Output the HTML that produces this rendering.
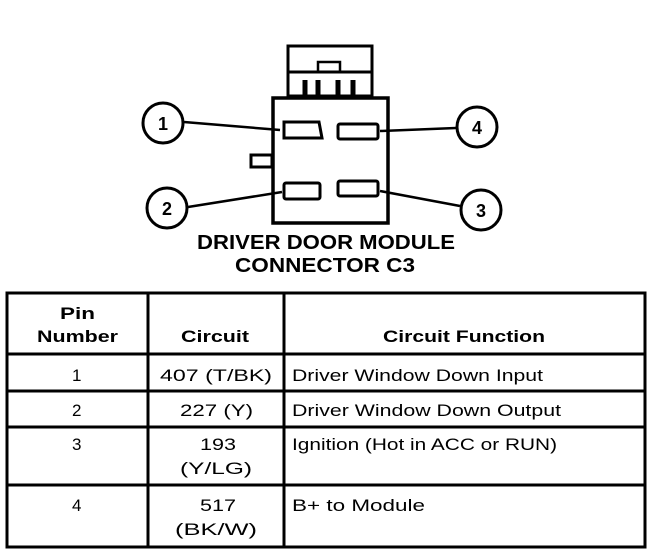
<!DOCTYPE html>
<html><head><meta charset="utf-8"><style>
html,body{margin:0;padding:0;background:#fff;}
svg{display:block;}
text{font-family:"Liberation Sans",Arial,sans-serif;fill:#000;}
</style></head><body>
<svg width="672" height="560" viewBox="0 0 672 560" xmlns="http://www.w3.org/2000/svg">
<g fill="none" stroke="#000" stroke-width="3">
  <rect x="288" y="46" width="84" height="50"/>
  <line x1="288" y1="72" x2="372" y2="72"/>
  <rect x="318" y="62" width="22" height="10" stroke-width="2.5"/>
  <line x1="305" y1="80" x2="305" y2="96" stroke-width="5"/>
  <line x1="318" y1="80" x2="318" y2="96" stroke-width="5"/>
  <line x1="338" y1="80" x2="338" y2="96" stroke-width="5"/>
  <line x1="353" y1="80" x2="353" y2="96" stroke-width="5"/>
  <rect x="273" y="98" width="115" height="125" stroke-width="3.5"/>
  <rect x="251" y="155" width="21" height="12"/>
  <path d="M284 122 H319 L322 138 H284 Z"/>
  <rect x="338" y="124" width="40" height="15" rx="2"/>
  <rect x="284" y="183" width="36" height="16" rx="2"/>
  <rect x="338" y="181" width="40" height="15" rx="2"/>
  <line x1="184" y1="122" x2="280" y2="130" stroke-width="2.5"/>
  <line x1="188" y1="207" x2="282" y2="192" stroke-width="2.5"/>
  <line x1="380" y1="131" x2="456" y2="128" stroke-width="2.5"/>
  <line x1="380" y1="191" x2="460" y2="206" stroke-width="2.5"/>
  <circle cx="163" cy="123" r="20"/>
  <circle cx="477" cy="127" r="20"/>
  <circle cx="167" cy="208" r="20"/>
  <circle cx="481" cy="210" r="20"/>
</g>
<g font-weight="bold" font-size="18" text-anchor="middle">
  <text x="163" y="130">1</text>
  <text x="477" y="134">4</text>
  <text x="167" y="215">2</text>
  <text x="481" y="217">3</text>
</g>
<g font-weight="bold" font-size="20" lengthAdjust="spacingAndGlyphs">
  <text x="197" y="249" textLength="258" lengthAdjust="spacingAndGlyphs">DRIVER DOOR MODULE</text>
  <text x="235" y="272" textLength="180" lengthAdjust="spacingAndGlyphs">CONNECTOR C3</text>
</g>
<g fill="none" stroke="#000" stroke-width="3">
  <rect x="7" y="293" width="638" height="254"/>
  <line x1="148" y1="293" x2="148" y2="547"/>
  <line x1="284" y1="293" x2="284" y2="547"/>
  <line x1="7" y1="354" x2="645" y2="354"/>
  <line x1="7" y1="391" x2="645" y2="391"/>
  <line x1="7" y1="427" x2="645" y2="427"/>
  <line x1="7" y1="485" x2="645" y2="485"/>
</g>
<g font-size="17">
  <text x="60" y="319" font-weight="bold" textLength="35" lengthAdjust="spacingAndGlyphs">Pin</text>
  <text x="37" y="342" font-weight="bold" textLength="81" lengthAdjust="spacingAndGlyphs">Number</text>
  <text x="181" y="342" font-weight="bold" textLength="68" lengthAdjust="spacingAndGlyphs">Circuit</text>
  <text x="383" y="342" font-weight="bold" textLength="162" lengthAdjust="spacingAndGlyphs">Circuit Function</text>
  <text x="72" y="381">1</text>
  <text x="160" y="381" textLength="112" lengthAdjust="spacingAndGlyphs">407 (T/BK)</text>
  <text x="72" y="416">2</text>
  <text x="180" y="416" textLength="73" lengthAdjust="spacingAndGlyphs">227 (Y)</text>
  <text x="72" y="450">3</text>
  <text x="200" y="450" textLength="36" lengthAdjust="spacingAndGlyphs">193</text>
  <text x="180" y="474" textLength="72" lengthAdjust="spacingAndGlyphs">(Y/LG)</text>
  <text x="72" y="511">4</text>
  <text x="200" y="511" textLength="36" lengthAdjust="spacingAndGlyphs">517</text>
  <text x="175" y="535" textLength="82" lengthAdjust="spacingAndGlyphs">(BK/W)</text>
  <text x="292" y="381" textLength="251" lengthAdjust="spacingAndGlyphs">Driver Window Down Input</text>
  <text x="292" y="416" textLength="269" lengthAdjust="spacingAndGlyphs">Driver Window Down Output</text>
  <text x="292" y="450" textLength="265" lengthAdjust="spacingAndGlyphs">Ignition (Hot in ACC or RUN)</text>
  <text x="292" y="511" textLength="133" lengthAdjust="spacingAndGlyphs">B+ to Module</text>
</g>
</svg>
</body></html>
